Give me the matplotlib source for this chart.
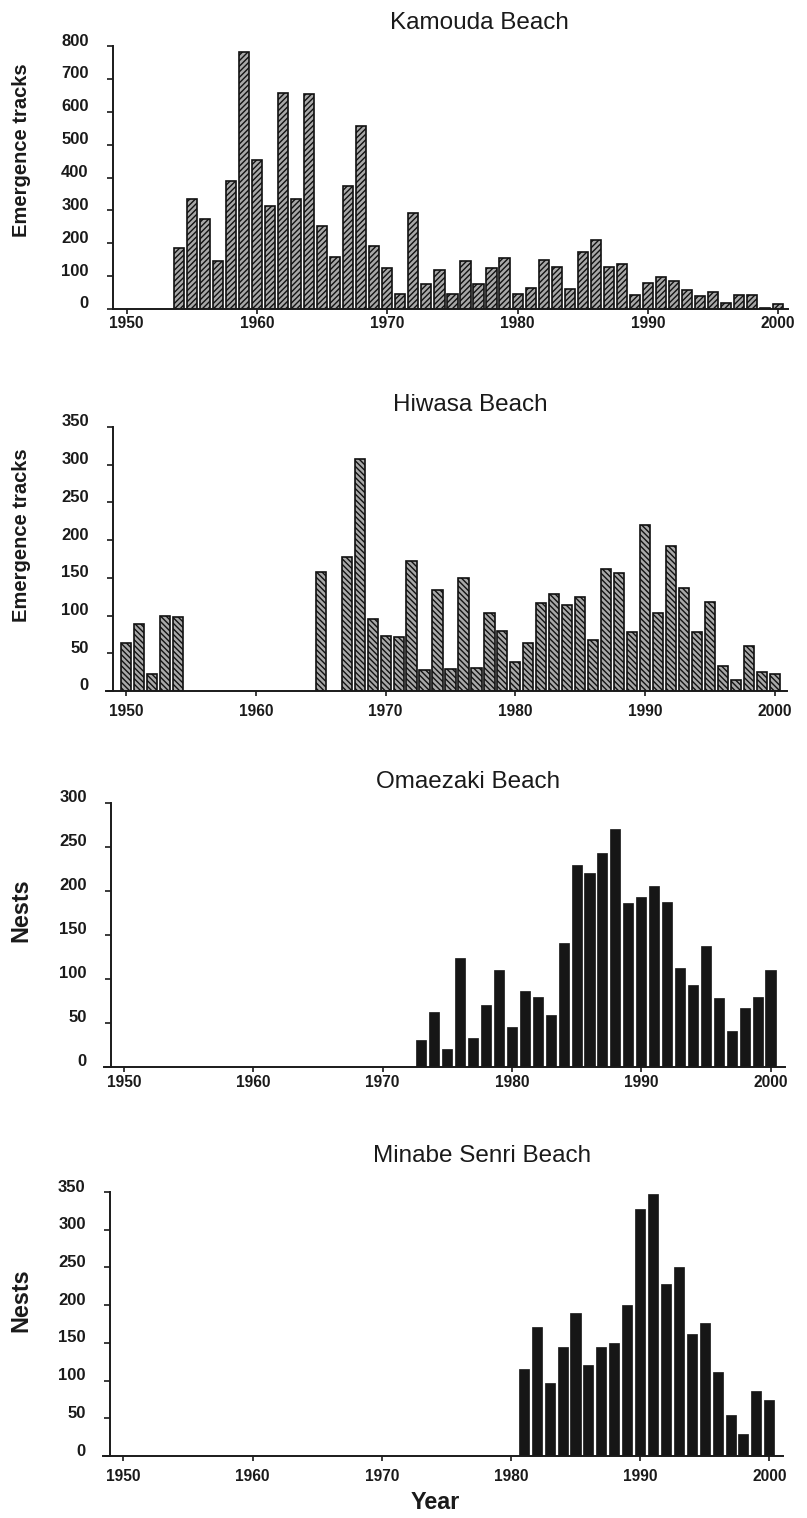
import matplotlib
matplotlib.use("Agg")
import matplotlib.pyplot as plt
import matplotlib.transforms as mtransforms

plt.rcParams['font.family'] = ['Liberation Sans', 'DejaVu Sans']
plt.rcParams['hatch.linewidth'] = 1.0

# ---------------- data ----------------
kamouda_years = [1954, 1955, 1956, 1957, 1958, 1959, 1960, 1961, 1962, 1963, 1964, 1965,
                 1966, 1967, 1968, 1969, 1970, 1971, 1972, 1973, 1974, 1975, 1976, 1977,
                 1978, 1979, 1980, 1981, 1982, 1983, 1984, 1985, 1986, 1987, 1988, 1989,
                 1990, 1991, 1992, 1993, 1994, 1995, 1996, 1997, 1998, 1999, 2000]
kamouda_tracks = [186, 336, 275, 146, 390, 782, 454, 313, 657, 336, 654, 252,
                  158, 374, 556, 192, 125, 47, 291, 77, 120, 47, 146, 76,
                  125, 156, 47, 65, 149, 129, 60, 173, 211, 127, 138, 43,
                  78, 96, 84, 58, 40, 53, 17, 42, 44, 3, 15]

hiwasa_years = [1950, 1951, 1952, 1953, 1954, 1965, 1967, 1968, 1969, 1970, 1971, 1972,
                1973, 1974, 1975, 1976, 1977, 1978, 1979, 1980, 1981, 1982, 1983, 1984,
                1985, 1986, 1987, 1988, 1989, 1990, 1991, 1992, 1993, 1994, 1995, 1996,
                1997, 1998, 1999, 2000]
hiwasa_tracks = [64, 89, 22, 100, 98, 158, 177, 308, 96, 73, 72, 173,
                 28, 134, 29, 150, 30, 104, 80, 39, 63, 117, 128, 114,
                 125, 68, 162, 157, 78, 220, 103, 192, 136, 78, 118, 33,
                 15, 59, 25, 22]

omaezaki_years = [1973, 1974, 1975, 1976, 1977, 1978, 1979, 1980, 1981, 1982, 1983, 1984,
                  1985, 1986, 1987, 1988, 1989, 1990, 1991, 1992, 1993, 1994, 1995, 1996,
                  1997, 1998, 1999, 2000]
omaezaki_nests = [31, 62, 20, 124, 33, 70, 110, 45, 86, 79, 59, 141,
                  230, 221, 243, 270, 186, 193, 206, 188, 112, 93, 137, 78,
                  41, 67, 80, 110]

minabe_years = [1981, 1982, 1983, 1984, 1985, 1986, 1987, 1988, 1989, 1990, 1991, 1992,
                1993, 1994, 1995, 1996, 1997, 1998, 1999, 2000]
minabe_nests = [115, 171, 97, 144, 189, 121, 144, 150, 200, 328, 348, 228,
                250, 162, 176, 112, 55, 29, 86, 74]

titles = ["Kamouda Beach", "Hiwasa Beach", "Omaezaki Beach", "Minabe Senri Beach"]
ylabels = ["Emergence tracks", "Emergence tracks", "Nests", "Nests"]
x_ticks = [1950, 1960, 1970, 1980, 1990, 2000]
y_ticks = [list(range(0, 801, 100)), list(range(0, 351, 50)),
           list(range(0, 301, 50)), list(range(0, 351, 50))]

# ---------------- layout (pixels) ----------------
W, H = 807, 1518
fig = plt.figure(figsize=(W / 100, H / 100), dpi=100)

# line_left, line_right, top, bottom, x_of_1950, px_per_year, spine_x, xpad
layout = [
    (113, 788, 46, 309, 126.7, 13.03, 113, 1.5),
    (106, 787, 427, 691, 126.0, 12.98, 113.3, 6.0),
    (104, 785, 803, 1067, 124.0, 12.93, 111, 2.0),
    (103, 783, 1192, 1456, 123.3, 12.92, 110, 6.0),
]
title_pos = [(479, 29), (470, 411), (468, 788), (482, 1162)]
ylabel_pos = [(22, 150, 14.5), (22, 535, 14.5), (21, 910, 16.8), (21, 1300, 16.8)]

series = [
    (kamouda_years, kamouda_tracks, '#a8a8a8', '//////'),
    (hiwasa_years, hiwasa_tracks, '#a8a8a8', '\\\\\\\\\\\\'),
    (omaezaki_years, omaezaki_nests, '#161616', None),
    (minabe_years, minabe_nests, '#161616', None),
]

up = mtransforms.ScaledTranslation(0, 6.5 / 100, fig.dpi_scale_trans)

for i, (lay, ser) in enumerate(zip(layout, series)):
    ll, lr, top, bot, x1950, ppy, spx, xpad = lay
    ax = fig.add_axes([ll / W, 1 - bot / H, (lr - ll) / W, (bot - top) / H])
    yrs, vals, fc, hatch = ser
    if hatch:
        ax.bar(yrs, vals, width=0.78, color=fc, edgecolor='#111111',
               linewidth=1.2, hatch=hatch, zorder=2)
    else:
        ax.bar(yrs, vals, width=0.78, color=fc, edgecolor=fc,
               linewidth=0.5, zorder=2)
    xl = 1950 + (ll - x1950) / ppy
    xr = 1950 + (lr - x1950) / ppy
    ax.set_xlim(xl, xr)
    ymax = y_ticks[i][-1]
    ax.set_ylim(0, ymax)
    ax.spines['top'].set_visible(False)
    ax.spines['right'].set_visible(False)
    ax.spines['left'].set_position(('data', 1950 + (spx - x1950) / ppy))
    for s in ('left', 'bottom'):
        ax.spines[s].set_linewidth(1.4)
        ax.spines[s].set_color('#1a1a1a')
    ax.set_xticks(x_ticks)
    ax.set_xticklabels([str(t) for t in x_ticks])
    ax.set_yticks(y_ticks[i])
    ax.set_yticklabels([str(t) for t in y_ticks[i]])
    ax.tick_params(axis='y', direction='out', length=4.5, width=1.2,
                   pad=13.0, labelsize=12, colors='#1a1a1a')
    ax.tick_params(axis='x', direction='out', length=3.5, width=1.2,
                   pad=xpad, labelsize=11.2, colors='#1a1a1a')
    for lab in ax.get_yticklabels():
        lab.set_fontweight('bold')
        lab.set_transform(lab.get_transform() + up)
    for lab in ax.get_xticklabels():
        lab.set_fontweight('bold')
    ax.set_facecolor('none')

    tx, ty = title_pos[i]
    fig.text(tx / W, 1 - ty / H, titles[i], ha='center', va='baseline',
             fontsize=17.5, color='#1a1a1a')
    lx, ly, fs = ylabel_pos[i]
    fig.text(lx / W, 1 - ly / H, ylabels[i], ha='center', va='center',
             rotation=90, fontsize=fs, fontweight='bold', color='#1a1a1a')

fig.text(435 / W, 1 - 1509 / H, "Year", ha='center', va='baseline',
         fontsize=16.8, fontweight='bold', color='#1a1a1a')

fig.savefig("out.png", dpi=100, facecolor='white')
